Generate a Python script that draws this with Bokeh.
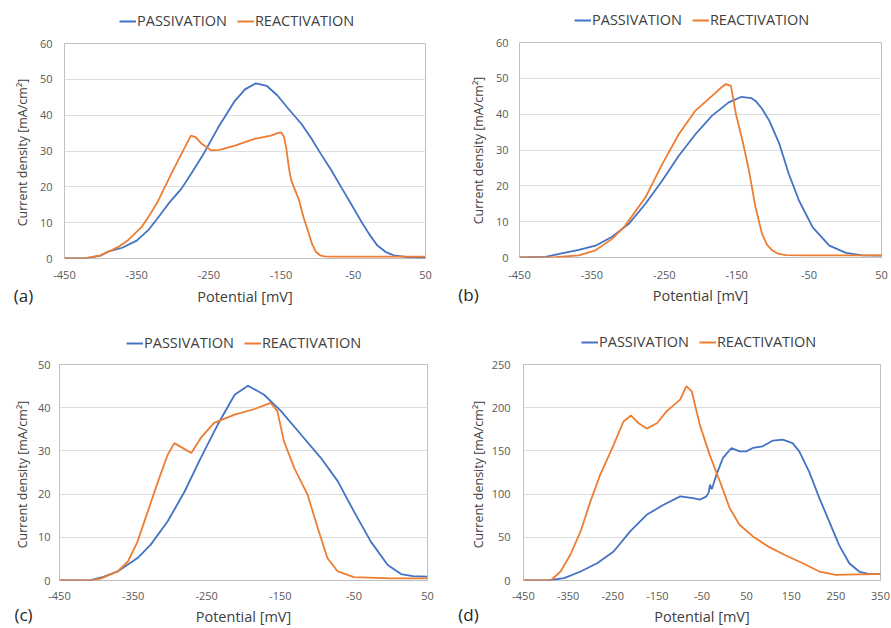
import math
from bokeh.plotting import figure
from bokeh.models import Range1d, FixedTicker, Legend, LegendItem, Label, LinearAxis
from bokeh.layouts import column, row
from bokeh.embed import file_html
from bokeh.resources import INLINE

# ---------------- data ----------------
a_pass_x = [-450,-420,-400,-390,-370,-350,-334,-320,-306,-288,-275,-260,-237,-214,-200,-185,-170,-155,-140,-122,-108,-95,-80,-67,-53,-40,-28,-17,-5,6,25,50]
a_pass_y = [0,0.1,0.8,1.9,3.0,5.0,7.9,11.5,15.3,19.5,23.5,28.3,36.6,44,47.2,48.9,48.2,45.5,41.8,37.6,33.5,29.2,24.5,20,15.2,10.7,6.8,3.7,1.8,0.9,0.4,0.2]
a_react_x = [-450,-420,-400,-389,-375,-362,-343,-330,-320,-302,-288,-275,-268,-260,-247,-235,-214,-187,-164,-155,-150,-146,-143,-139,-136,-130,-125,-119,-113,-107,-102,-96,-90,-80,-50,0,50]
a_react_y = [0,0.1,0.9,1.9,3.3,5.1,8.8,12.8,16.2,23.7,29.2,34.3,33.8,32,30.2,30.3,31.5,33.4,34.3,35,35.2,34,31,25,21.8,18.8,16.2,11.5,7.9,4,1.9,0.9,0.6,0.5,0.5,0.5,0.5]

b_pass_x = [-450,-414,-390,-368,-345,-322,-299,-276,-253,-230,-207,-184,-161,-144,-130,-124,-115,-105,-91,-78,-64,-45,-22,1,24,50]
b_pass_y = [0,0.2,1.2,2.1,3.3,5.8,9.4,15,21.4,28.4,34.4,39.6,43.3,44.8,44.5,43.7,41.5,38.2,31.7,23.3,15.9,8.4,3.3,1.3,0.6,0.5]
b_react_x = [-450,-400,-368,-345,-322,-304,-276,-253,-230,-207,-184,-172,-165,-158,-151,-142,-133,-124,-115,-108,-101,-92,-82,-50,0,50]
b_react_y = [0,0.1,0.6,2,5.2,8.9,16.8,26,34.4,41,45.1,47.3,48.4,47.9,40,32.6,24.2,14,6.6,3.5,2,1,0.65,0.6,0.6,0.6]

c_pass_x = [-450,-410,-393,-371,-344,-326,-303,-280,-258,-235,-212,-194,-172,-149,-122,-95,-72,-50,-27,-4,14,30,50]
c_pass_y = [0,0,0.7,2.1,5.2,8.3,13.7,20.6,28.4,36.1,43,45.1,43,39.2,33.8,28.4,23,16,9,3.6,1.5,1.0,0.9]
c_react_x = [-450,-407,-393,-371,-357,-344,-330,-316,-303,-294,-283,-271,-258,-240,-212,-185,-163,-154,-145,-131,-113,-99,-86,-72,-50,0,50]
c_react_y = [0,0,0.5,2.1,4.4,9,16,23,29.1,31.8,30.7,29.5,33,36.5,38.4,39.7,41.1,39.2,32.2,26,19.9,12.1,5.2,2.1,0.8,0.5,0.5]

d_pass_x = [-450,-396,-359,-322,-285,-248,-211,-174,-136,-99,-70,-55,-40,-35,-32,-29,-27,-18,-3,16,34,49,64,86,109,131,153,168,190,213,235,257,280,302,324,350]
d_pass_y = [0,0,2.7,10.4,20,33.6,56.8,76,87.7,97.4,95.4,93.5,97.4,102,111,106,107,122,142,153.4,149.5,149.5,153.4,155.3,162,163,159,149.5,126,95.4,68.4,41.3,20,10.4,7.3,7.3]
d_react_x = [-450,-389,-367,-345,-322,-300,-278,-248,-226,-209,-192,-174,-151,-129,-99,-85,-73,-55,-33,-10,12,34,64,101,138,176,213,250,300,350]
d_react_y = [0,0,10.4,29.8,56.8,91.6,122.5,157,184,190.9,182,175.8,182,196,209.4,224.9,219,180.4,145.7,114.8,83.8,64.5,51,38.6,29,20,10.4,6.6,7,7.3]

x_ticks_short = [-450, -350, -250, -150, -50, 50]
x_ticks_long = [-450, -350, -250, -150, -50, 50, 150, 250, 350]
series_names = ["PASSIVATION", "REACTIVATION"]
panel_tags = ["(a)", "(b)", "(c)", "(d)"]
x_title = "Potential [mV]"
y_title = "Current density [mA/cm²]"

BLUE = "#4472C4"
ORANGE = "#ED7D31"
FONT = "Open Sans"
H = 314
TOP_PAD = 8


def bare(w, h, **kw):
    s = figure(width=w, height=h, output_backend="svg", toolbar_location=None,
               x_range=Range1d(1000, 1001), y_range=Range1d(1000, 1001),
               x_axis_type=None, y_axis_type=None, **kw)
    s.outline_line_color = None
    s.background_fill_color = "white"
    s.border_fill_color = "white"
    return s


def legend_strip(w, h, loc, px, py, rx, ry):
    s = bare(w, h, min_border=0)
    # legend swatches: the series themselves, kept outside this strip's view
    g1 = s.line(px, py, line_color=BLUE, line_width=2)
    g2 = s.line(rx, ry, line_color=ORANGE, line_width=2)
    leg = Legend(items=[LegendItem(label=series_names[0], renderers=[g1]),
                        LegendItem(label=series_names[1], renderers=[g2])],
                 orientation="horizontal", location=loc,
                 border_line_color=None, background_fill_alpha=0,
                 padding=0, margin=0, spacing=10, glyph_width=17, glyph_height=18,
                 label_height=18, label_standoff=1,
                 label_text_font=FONT, label_text_font_size="14.5px",
                 label_text_color="#404040")
    s.add_layout(leg, "center")
    return s


def side_strip(w, h, left, tag, tag_stand, yt_x, yt_y):
    s = bare(w, h, min_border_left=left, min_border_right=0, min_border_top=0, min_border_bottom=0)
    tax = LinearAxis(ticker=FixedTicker(ticks=[]), axis_label=tag)
    tax.axis_line_color = None
    tax.major_tick_line_color = None
    tax.minor_tick_line_color = None
    tax.major_tick_out = 0
    tax.major_tick_in = 0
    tax.major_label_standoff = 0
    tax.axis_label_standoff = tag_stand
    tax.axis_label_text_font = FONT
    tax.axis_label_text_font_size = "17px"
    tax.axis_label_text_font_style = "normal"
    tax.axis_label_text_color = "#262626"
    s.add_layout(tax, "below")
    s.add_layout(Label(x=yt_x, y=yt_y, x_units="screen", y_units="screen", text=y_title,
                       angle=math.pi / 2, text_font=FONT, text_font_size="12.5px",
                       text_color="#404040", text_baseline="middle", text_align="center"))
    return s


def panel(w, h, borders, xr, yr, xt, yt, px, py, rx, ry, ystand, xstand, xtitle_stand):
    l, r, b = borders
    p = figure(width=w, height=h, output_backend="svg", toolbar_location=None,
               x_range=Range1d(*xr), y_range=Range1d(*yr),
               min_border_left=l, min_border_right=r, min_border_top=TOP_PAD, min_border_bottom=b)
    p.background_fill_color = "white"
    p.border_fill_color = "white"
    p.outline_line_color = "#BFBFBF"
    p.outline_line_width = 1
    p.xgrid.grid_line_color = None
    p.ygrid.grid_line_color = "#DDDDDD"
    p.xaxis.ticker = FixedTicker(ticks=xt)
    p.yaxis.ticker = FixedTicker(ticks=yt)
    p.xaxis.major_label_overrides = {v: str(v) for v in xt}
    for ax in (p.xaxis, p.yaxis):
        ax.axis_line_color = None
        ax.major_tick_line_color = None
        ax.minor_tick_line_color = None
        ax.major_tick_out = 0
        ax.major_tick_in = 0
        ax.major_label_text_font = FONT
        ax.major_label_text_font_size = "11px"
        ax.major_label_text_color = "#595959"
    p.xaxis.axis_label = x_title
    p.xaxis.axis_label_text_font = FONT
    p.xaxis.axis_label_text_font_size = "14.5px"
    p.xaxis.axis_label_text_font_style = "normal"
    p.xaxis.axis_label_text_color = "#404040"
    p.yaxis.major_label_standoff = ystand
    p.xaxis.major_label_standoff = xstand
    p.xaxis.axis_label_standoff = xtitle_stand

    p.line(px, py, line_color=BLUE, line_width=1.8)
    p.line(rx, ry, line_color=ORANGE, line_width=1.8)
    return p


def quadrant(w, top, side_w, side_left, tag, tag_stand, yt_x, yt_y, leg_loc, borders,
             xr, yr, xt, yt, px, py, rx, ry, ystand, xstand, xtitle_stand):
    strip_h = top - TOP_PAD
    leg = legend_strip(w, strip_h, leg_loc, px, py, rx, ry)
    side = side_strip(side_w, H - strip_h, side_left, tag, tag_stand, yt_x, yt_y)
    main = panel(w - side_w, H - strip_h, borders, xr, yr, xt, yt, px, py, rx, ry,
                 ystand, xstand, xtitle_stand)
    return column(leg, row(side, main))


qa = quadrant(445, 43, 36, 10, panel_tags[0], 25, 12, 106, (119, 5), (27, 20, 56),
              (-450, 50), (0, 60), x_ticks_short, list(range(0, 61, 10)),
              a_pass_x, a_pass_y, a_react_x, a_react_y, 12, 12, 5)
qb = quadrant(446, 42, 44, 2, panel_tags[1], 25, 31, 107, (129, 5), (30, 10, 57),
              (-450, 50), (0, 60), x_ticks_short, list(range(0, 61, 10)),
              b_pass_x, b_pass_y, b_react_x, b_react_y, 11, 13, 4)
qc = quadrant(445, 50, 34, 12, panel_tags[2], 22, 10, 106, (126, 4), (24, 18, 48),
              (-450, 50), (0, 50), x_ticks_short, list(range(0, 51, 10)),
              c_pass_x, c_pass_y, c_react_x, c_react_y, 9, 11, 4)
qd = quadrant(446, 50, 43, 3, panel_tags[3], 22, 30, 106, (136, 5), (33, 11, 48),
              (-450, 350), (0, 250), x_ticks_long, list(range(0, 251, 50)),
              d_pass_x, d_pass_y, d_react_x, d_react_y, 13, 11, 4)

layout = column(row(qa, qb), row(qc, qd))
open("out.html", "w").write(file_html(layout, INLINE))
